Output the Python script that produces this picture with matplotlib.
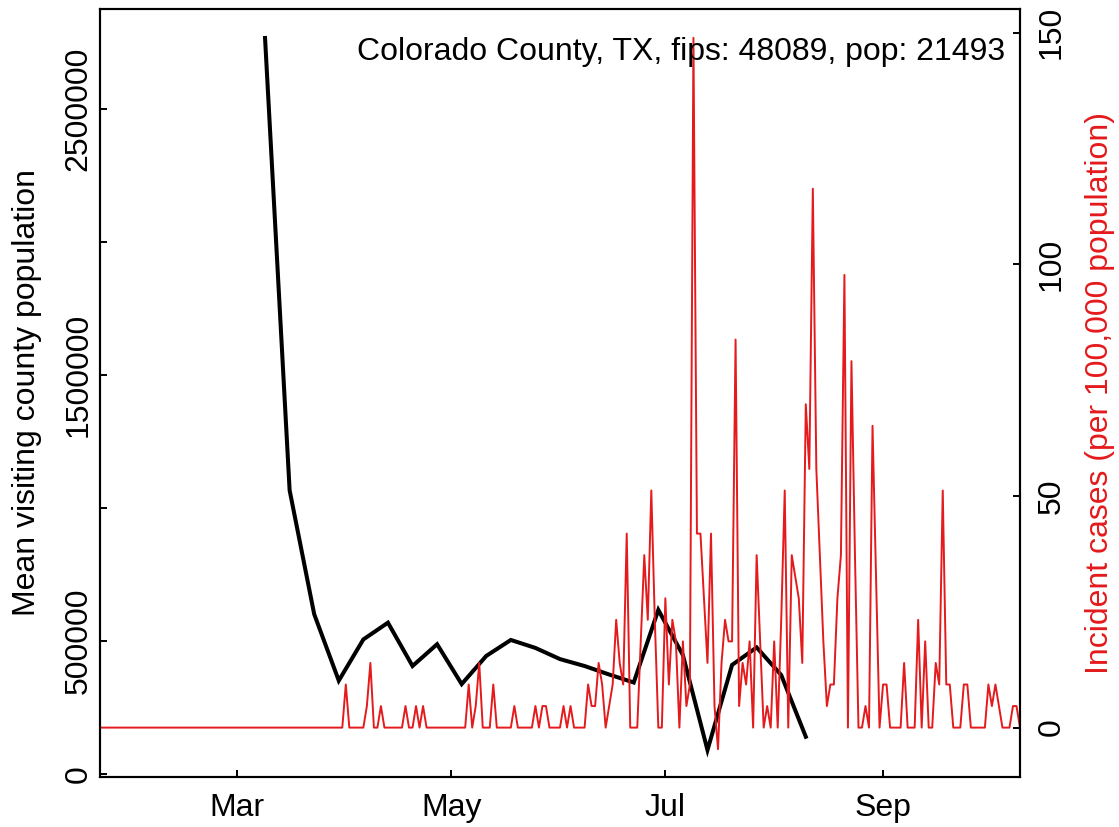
import matplotlib
matplotlib.use("Agg")
import matplotlib.pyplot as plt
import matplotlib.dates as mdates
import pandas as pd

plt.rcParams['font.family'] = ['Liberation Sans', 'DejaVu Sans']

# county info
county = "Colorado County, TX, fips: 48089, pop: 21493"
population = 21493

# weekly mean visiting county population (black line)
visit_dates = pd.date_range("2020-03-09", periods=23, freq="7D")
visit_pop = [2767000, 1066000, 600000, 350000, 505000, 568000, 405000, 487000,
             337000, 443000, 503000, 473000, 431000, 405000, 373000, 343000,
             616000, 446000, 89000, 409000, 475000, 371000, 139000]

# daily new cases (red line), 2020-01-22 .. 2020-10-10
case_dates = pd.date_range("2020-01-22", "2020-10-10", freq="D")
daily_cases = [
    0, 0, 0, 0, 0, 0, 0, 0, 0, 0,
    0, 0, 0, 0, 0, 0, 0, 0, 0, 0,
    0, 0, 0, 0, 0, 0, 0, 0, 0, 0,
    0, 0, 0, 0, 0, 0, 0, 0, 0, 0,
    0, 0, 0, 0, 0, 0, 0, 0, 0, 0,
    0, 0, 0, 0, 0, 0, 0, 0, 0, 0,
    0, 0, 0, 0, 0, 0, 0, 0, 0, 0,
    2, 0, 0, 0, 0, 0, 1, 3, 0, 0,
    1, 0, 0, 0, 0, 0, 0, 1, 0, 0,
    1, 0, 1, 0, 0, 0, 0, 0, 0, 0,
    0, 0, 0, 0, 0, 2, 0, 1, 3, 0,
    0, 0, 2, 0, 0, 0, 0, 0, 1, 0,
    0, 0, 0, 0, 1, 0, 1, 1, 0, 0,
    0, 0, 1, 0, 1, 0, 0, 0, 0, 2,
    1, 1, 3, 2, 0, 1, 2, 5, 3, 2,
    9, 0, 0, 0, 4, 8, 5, 11, 5, 0,
    0, 6, 2, 5, 4, 0, 4, 1, 2, 32,
    9, 9, 6, 3, 9, 1, -1, 3, 5, 4,
    4, 18, 1, 3, 2, 4, 0, 8, 4, 0,
    1, 0, 4, 0, 5, 11, 0, 8, 7, 6,
    3, 15, 12, 25, 12, 8, 4, 1, 2, 2,
    6, 8, 21, 0, 17, 8, 0, 0, 1, 0,
    14, 7, 0, 2, 2, 0, 0, 0, 0, 3,
    0, 0, 0, 5, 0, 4, 0, 0, 3, 2,
    11, 2, 2, 0, 0, 0, 2, 2, 0, 0,
    0, 0, 0, 2, 1, 2, 1, 0, 0, 0,
    1, 1, 0,
]
incidence = [c / population * 100000 for c in daily_cases]

month_ticks = pd.to_datetime(["2020-03-01", "2020-05-01", "2020-07-01", "2020-09-01"])
month_labels = ["Mar", "May", "Jul", "Sep"]
left_ticks = [0, 500000, 1000000, 1500000, 2000000, 2500000]
left_labels = ["0", "500000", "", "1500000", "", "2500000"]
right_ticks = [0, 50, 100, 150]

red = "#E41A1C"
fs = 23

fig = plt.figure(figsize=(11.19, 8.27), dpi=100)
ax = fig.add_axes([100 / 1119, 1 - 777 / 827, 920 / 1119, 768 / 827])

ax.plot(visit_dates, visit_pop, color="black", lw=2.9, solid_joinstyle="miter")
ax.set_xlim(case_dates[0], case_dates[-1])
ax.set_ylim(-12400, 2876000)
ax.set_xticks(month_ticks)
ax.set_xticklabels(month_labels)
ax.set_yticks(left_ticks)
ax.set_yticklabels(left_labels, rotation=90, va="center")
ax.tick_params(axis="x", direction="in", length=5, width=1.4, labelsize=fs, pad=11.5)
ax.tick_params(axis="y", direction="in", length=5, width=1.4, labelsize=fs, pad=4.5)
ax.set_ylabel("Mean visiting county population", fontsize=fs)
ax.yaxis.set_label_coords(-0.063, 0.5)
for s in ax.spines.values():
    s.set_linewidth(1.5)

ax2 = ax.twinx()
ax2.plot(case_dates, incidence, color=red, lw=1.4)
ax2.set_xlim(case_dates[0], case_dates[-1])
ax2.set_ylim(-10.66, 155.1)
ax2.set_yticks(right_ticks)
ax2.set_yticklabels([str(t) for t in right_ticks], rotation=90, va="center")
ax2.tick_params(axis="y", direction="in", length=5, width=1.4, labelsize=fs, pad=12)
ax2.set_ylabel("Incident cases (per 100,000 population)", fontsize=fs, color=red)
ax2.yaxis.set_label_coords(1.0707, 0.5)
for s in ax2.spines.values():
    s.set_linewidth(1.5)

ax2.text(0.9837, 0.9336, county, transform=ax2.transAxes, ha="right",
         va="baseline", fontsize=fs)

fig.savefig("out.png", dpi=100)
